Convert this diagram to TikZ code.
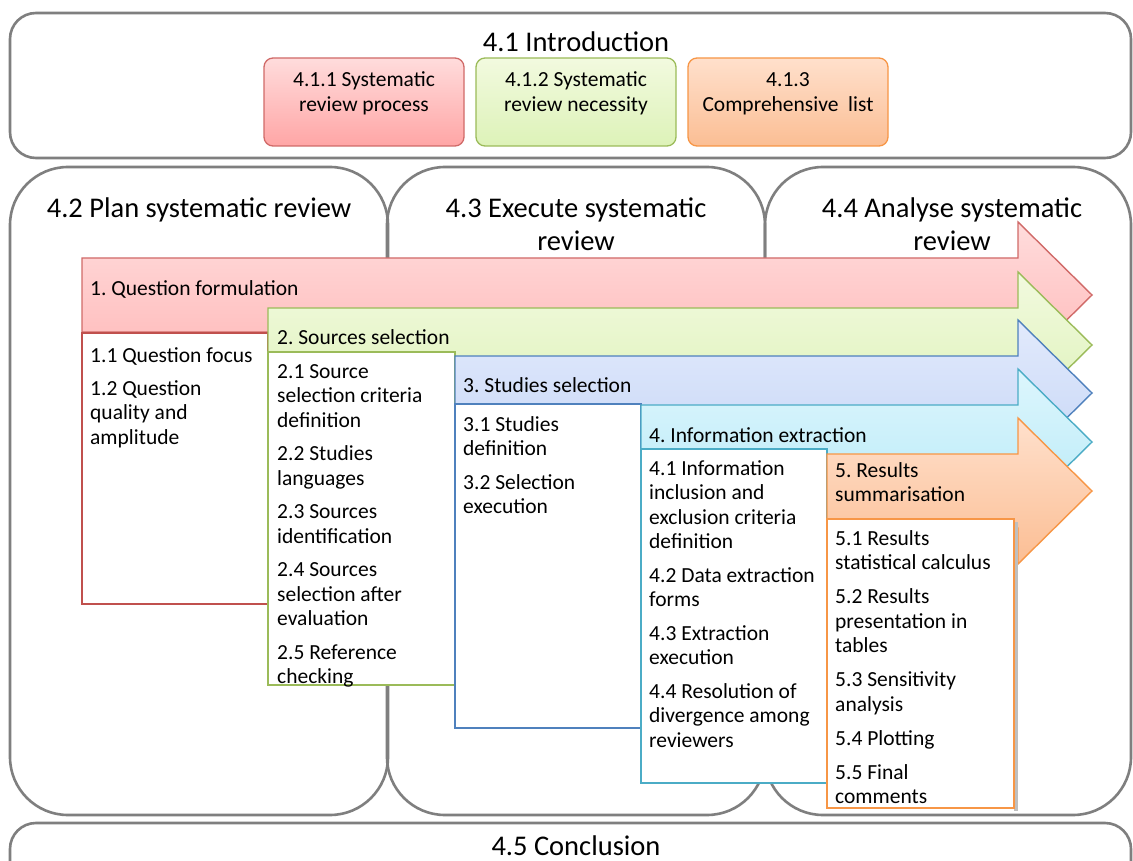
\documentclass[tikz,border=0pt]{standalone}
\usepackage{fontspec}
\setmainfont{Carlito}
\frenchspacing

% outline and step palette
\definecolor{frameGray}{HTML}{7F7F7F}
\definecolor{redTop}{HTML}{FFDCDC}
\definecolor{redBot}{HTML}{FFB8B8}
\definecolor{redLine}{HTML}{D06A68}
\definecolor{redBox}{HTML}{C0504D}
\definecolor{greenTop}{HTML}{F2FADF}
\definecolor{greenBot}{HTML}{DDF2B8}
\definecolor{greenLine}{HTML}{9BBB59}
\definecolor{blueTop}{HTML}{E2EAFC}
\definecolor{blueBot}{HTML}{C6D6F6}
\definecolor{blueLine}{HTML}{4F81BD}
\definecolor{cyanTop}{HTML}{DDF6FD}
\definecolor{cyanBot}{HTML}{B8EAF7}
\definecolor{cyanLine}{HTML}{4BACC6}
\definecolor{orangeTop}{HTML}{FFE0CC}
\definecolor{orangeBot}{HTML}{FBBE94}
\definecolor{orangeLine}{HTML}{F79646}

% one process step: left x, tip y, top colour, bottom colour, outline colour
\newcommand\procarrow[5]{%
  \path[draw=#5, line width=1.4pt, line join=miter, top color=#3, bottom color=#4]
    (#1,#2-37) -- (1018,#2-37) -- (1018,#2-73) -- (1092,#2)
    -- (1018,#2+73) -- (1018,#2+37) -- (#1,#2+37) -- cycle;}

\begin{document}
\begin{tikzpicture}[x=1pt, y=-1pt,
  frame/.style={draw=frameGray, line width=2.6pt},
  titletext/.style={anchor=base, inner sep=0pt, text width=360pt, align=flush center, font=\fontsize{28.5}{33}\selectfont},
  steptext/.style={anchor=base west, inner sep=0pt, font=\fontsize{21.5}{24.5}\selectfont},
  boxtext/.style={anchor=base west, inner sep=0pt, text width=185pt, align=flush left, font=\fontsize{21.5}{24.5}\selectfont},
  introtext/.style={anchor=base, inner sep=0pt, text width=196pt, align=flush center, font=\fontsize{21.5}{25}\selectfont},
  subbox/.style={line width=1.3pt, rounded corners=9pt},
  listbox/.style={fill=white, line width=2.6pt},
]
\clip (0,0) rectangle (1133,861);
\fill[white] (0,0) rectangle (1133,861);

% ---- 4.1 Introduction ----
\draw[frame, rounded corners=26pt] (10,13) rectangle (1131,158);
\node[titletext] (intro) at (576,52) {4.1 Introduction};
\draw[subbox, draw=redLine, top color=redTop, bottom color=redBot!90!red] (264,58) rectangle (464,146);
\draw[subbox, draw=greenLine, top color=greenTop, bottom color=greenBot] (476,58) rectangle (676,146);
\draw[subbox, draw=orangeLine, top color=orangeTop, bottom color=orangeBot] (688,58) rectangle (888,146);
\node[introtext] (i1) at (364,87) {4.1.1 Systematic\\review process};
\node[introtext] (i2) at (576,87) {4.1.2 Systematic\\review necessity};
\node[introtext] (i3) at (788,87) {4.1.3\\Comprehensive\ \ list};

% ---- phase columns ----
\draw[frame, rounded corners=58pt] (10,167) rectangle (388,815);
\draw[frame, rounded corners=58pt] (387,167) rectangle (765,815);
\draw[frame, rounded corners=58pt] (765,167) rectangle (1131,815);
\node[titletext] (plan) at (199,217.5) {4.2 Plan systematic review};
\node[titletext] (exec) at (576,218) {4.3 Execute systematic\\review};
\node[titletext] (anal) at (952,218) {4.4 Analyse systematic\\review};

% ---- 4.5 Conclusion ----
\draw[frame, rounded corners=26pt] (10,823) rectangle (1131,905);
\node[titletext] (concl) at (576,855) {4.5 Conclusion};

% ---- step 1 ----
\procarrow{82}{295}{redTop}{redBot}{redLine}
\node[steptext] (s1) at (90,295) {1. Question formulation};
\draw[listbox, draw=redBox] (82,333) rectangle (268,604);
\node[boxtext] (l1) at (90,362) {1.1 Question focus\\[8.5pt]1.2 Question\\quality and\\amplitude};

% ---- step 2 ----
\procarrow{268}{345}{greenTop}{greenBot}{greenLine}
\node[steptext] (s2) at (277,344) {2. Sources selection};
\draw[listbox, draw=greenLine] (268,352) rectangle (455,685);
\node[boxtext] (l2) at (277,378) {2.1 Source\\selection criteria\\definition\\[9pt]2.2 Studies\\languages\\[9pt]2.3 Sources\\identification\\[9pt]2.4 Sources\\selection after\\evaluation\\[9pt]2.5 Reference\\checking};

% ---- step 3 ----
\procarrow{455}{393}{blueTop}{blueBot}{blueLine}
\node[steptext] (s3) at (463,392) {3. Studies selection};
\draw[listbox, draw=blueLine] (455,404) rectangle (641,728);
\node[boxtext] (l3) at (463,431) {3.1 Studies\\definition\\[9pt]3.2 Selection\\execution};

% ---- step 4 ----
\procarrow{641}{442}{cyanTop}{cyanBot}{cyanLine}
\node[steptext] (s4) at (649,442) {4. Information extraction};
\draw[listbox, draw=cyanLine] (641,449) rectangle (827,783);
\node[boxtext] (l4) at (649,475) {4.1 Information\\inclusion and\\exclusion criteria\\definition\\[9pt]4.2 Data extraction\\forms\\[9pt]4.3 Extraction\\execution\\[9pt]4.4 Resolution of\\divergence among\\reviewers};

% ---- step 5 ----
\procarrow{827}{491}{orangeTop}{orangeBot}{orangeLine}
\node[boxtext] (s5) at (835,477) {5. Results\\summarisation};
\fill[black!25] (1014,522) rectangle (1018,811);
\draw[listbox, draw=orangeLine] (827,519) rectangle (1014,808);
\node[boxtext] (l5) at (835,545) {5.1 Results\\statistical calculus\\[9.5pt]5.2 Results\\presentation in\\tables\\[9.5pt]5.3 Sensitivity\\analysis\\[9.5pt]5.4 Plotting\\[9.5pt]5.5 Final\\comments};
\end{tikzpicture}
\end{document}
